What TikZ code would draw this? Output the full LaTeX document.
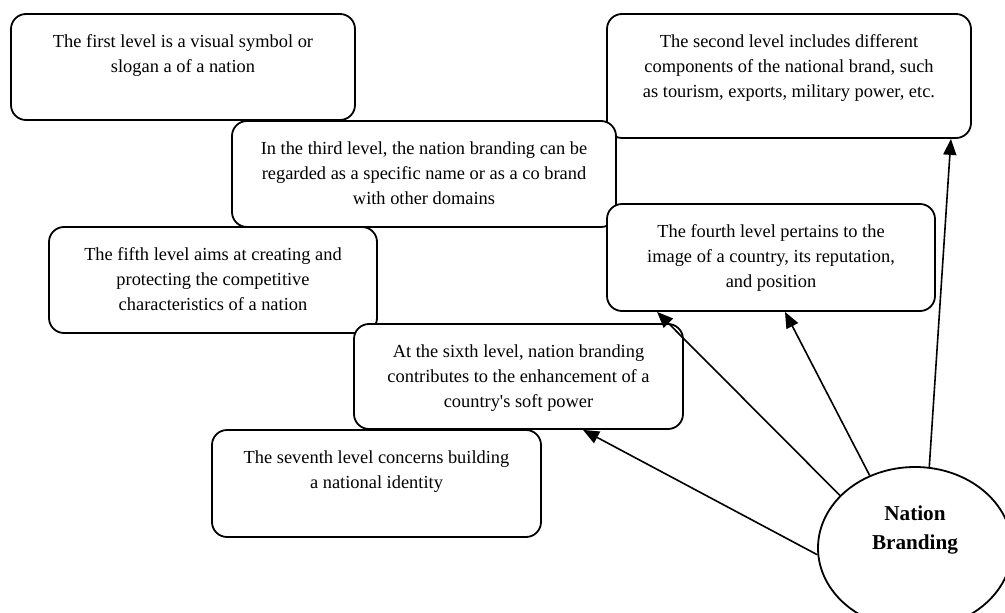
\documentclass[tikz,border=0pt]{standalone}
\usepackage{fontspec}
\setmainfont{Liberation Serif}
\newfontfamily\rawserif{Liberation Serif}
\usetikzlibrary{arrows.meta,shapes.geometric}
\tikzset{
  lvlbox/.style={draw=black, fill=white, line width=1.8pt, rounded corners=15pt, inner sep=0pt},
  lvltext/.style={anchor=north, align=center, inner sep=0pt, font=\fontsize{18.4}{25}\selectfont},
  core/.style={draw=black, fill=white, line width=1.8pt, ellipse, inner sep=0pt, minimum width=194pt, minimum height=162pt},
  coretext/.style={align=center, inner sep=0pt, font=\fontsize{21.2}{28.5}\selectfont\bfseries},
  link/.style={line width=1.6pt, -{Triangle[length=16pt,width=13pt]}}
}
\begin{document}
\begin{tikzpicture}[x=1pt,y=-1pt]
\useasboundingbox (0,0) rectangle (1005,613);
% boxes
\node[lvlbox, minimum width=344pt, minimum height=106pt] (b1) at (183,67) {};
\node[lvltext] (t1) at ([yshift=-21pt]b1.north) {The first level is a visual symbol or\\slogan a of a nation};
\node[lvlbox, minimum width=364pt, minimum height=124pt] (b2) at (789,76) {};
\node[lvltext] (t2) at ([yshift=-21pt]b2.north) {The second level includes different\\components of the national brand, such\\as tourism, exports, military power, etc.};
\node[lvlbox, minimum width=384pt, minimum height=106pt] (b3) at (424,174) {};
\node[lvltext] (t3) at ([yshift=-21pt]b3.north) {In the third level, the nation branding can be\\regarded as a specific name or as a co brand\\with other domains};
\node[lvlbox, minimum width=328pt, minimum height=107pt] (b4) at (771,257.5) {};
\node[lvltext] (t4) at ([yshift=-21pt]b4.north) {The fourth level pertains to the\\image of a country, its reputation,\\and position};
\node[lvlbox, minimum width=328pt, minimum height=106pt] (b5) at (213,280) {};
\node[lvltext] (t5) at ([yshift=-21pt]b5.north) {The fifth level aims at creating and\\protecting the competitive\\characteristics of a nation};
\node[lvlbox, minimum width=329pt, minimum height=107pt] (b7) at (376.5,483.5) {};
\node[lvltext] (t7) at ([yshift=-21pt]b7.north) {The seventh level concerns building\\a national identity};
\node[lvlbox, minimum width=329pt, minimum height=105pt] (b6) at (518.5,376.5) {};
\node[lvltext] (t6) at ([yshift=-21pt]b6.north) {At the sixth level, nation branding\\contributes to the enhancement of a\\country{\rawserif'}s soft power};
% core ellipse
\node[core] (nb) at (915,548) {};
\node[coretext] (nbt) at (915,530) {Nation\\Branding};
% connectors
\draw[link] (nb.80.9) -- ([xshift=-21pt]b2.south east);
\draw[link] (nb.122.4) -- ([xshift=14pt]b4.south);
\draw[link] (nb.145.5) -- ([xshift=51pt]b4.south west);
\draw[link] (nb.184) -- ([xshift=64.5pt]b6.south);
\end{tikzpicture}
\end{document}
